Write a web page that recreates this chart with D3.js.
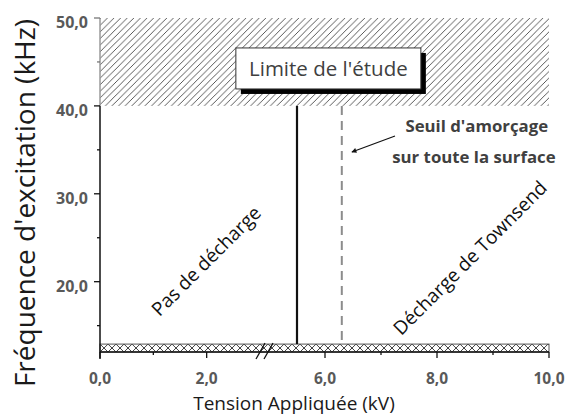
<!DOCTYPE html>
<html>
<head>
<meta charset="utf-8">
<script src="https://cdn.jsdelivr.net/npm/d3@7"></script>
<style>
  html, body { margin: 0; padding: 0; background: #fff; }
  svg { display: block; font-family: "Open Sans", sans-serif; }
</style>
</head>
<body>
<svg id="chart" width="565" height="416"></svg>
<script>
// Axis ticks (kV on x, kHz on y)
const xMajorTicks = [0, 2, 6, 8, 10];
const xMinorTicks = [1, 7, 9];
const yMajorTicks = [20, 30, 40, 50];
const yMinorTicks = [15, 25, 35, 45];
const xBreak = [3, 5];            // interrupted part of the voltage axis
const yDomain = [12, 50];

// Regions and thresholds
const studyLimit = [40, 50];      // frequencies beyond the study
const bottomBand = [12, 12.9];    // hatched strip along the voltage axis
const noDischargeLimit = 5.5;     // kV, onset of discharge
const fullSurfaceThreshold = 6.3; // kV, ignition over the whole surface

const fmt = v => d3.format(".1f")(v).replace(".", ",");

const svg = d3.select("#chart");

// Broken x scale: [0,3] then [5,10]
const x = d3.scaleLinear()
  .domain([0, xBreak[0], xBreak[1], 10])
  .range([100, 260, 269, 549]);
const y = d3.scaleLinear().domain(yDomain).range([352, 18]);

const defs = svg.append("defs");
const diag = defs.append("pattern")
  .attr("id", "diag").attr("patternUnits", "userSpaceOnUse")
  .attr("width", 6.6).attr("height", 6.6);
diag.append("path")
  .attr("d", "M-1,1 l2,-2 M0,6.6 l6.6,-6.6 M5.6,7.6 l2,-2")
  .attr("stroke", "#222").attr("stroke-width", 0.75).attr("fill", "none");

const bandTop = y(bottomBand[1]), bandBot = y(bottomBand[0]);
const bh = bandBot - bandTop;
const cross = defs.append("pattern")
  .attr("id", "cross").attr("patternUnits", "userSpaceOnUse")
  .attr("x", x(0)).attr("y", bandTop)
  .attr("width", 8).attr("height", bh);
cross.append("path")
  .attr("d", `M0,0 L8,${bh} M0,${bh} L8,0`)
  .attr("stroke", "#111").attr("stroke-width", 0.8).attr("fill", "none");

defs.append("marker")
  .attr("id", "arrow").attr("viewBox", "0 0 10 10")
  .attr("refX", 9).attr("refY", 5)
  .attr("markerWidth", 7).attr("markerHeight", 5)
  .attr("markerUnits", "userSpaceOnUse")
  .attr("orient", "auto")
  .append("path").attr("d", "M0,0 L10,5 L0,10 z").attr("fill", "#111");

// Out-of-study region
svg.append("rect")
  .attr("x", x(0)).attr("y", y(studyLimit[1]))
  .attr("width", x(10) - x(0)).attr("height", y(studyLimit[0]) - y(studyLimit[1]))
  .attr("fill", "url(#diag)");

// Bottom hatched strip
svg.append("rect")
  .attr("x", x(0)).attr("y", bandTop)
  .attr("width", x(10) - x(0)).attr("height", bh)
  .attr("fill", "url(#cross)")
  .attr("stroke", "#555").attr("stroke-width", 1);

// Threshold lines
svg.append("line")
  .attr("x1", x(noDischargeLimit)).attr("x2", x(noDischargeLimit))
  .attr("y1", y(studyLimit[0])).attr("y2", bandTop)
  .attr("stroke", "#111").attr("stroke-width", 2.2);
svg.append("line")
  .attr("x1", x(fullSurfaceThreshold)).attr("x2", x(fullSurfaceThreshold))
  .attr("y1", y(studyLimit[0])).attr("y2", bandTop)
  .attr("stroke", "#8c8c8c").attr("stroke-width", 2)
  .attr("stroke-dasharray", "9,6");

// Y axis
svg.append("line")
  .attr("x1", x(0)).attr("x2", x(0))
  .attr("y1", y(studyLimit[1])).attr("y2", y(studyLimit[0]))
  .attr("stroke", "#9a9a9a").attr("stroke-width", 1.5);
svg.append("line")
  .attr("x1", x(0)).attr("x2", x(0))
  .attr("y1", y(studyLimit[0])).attr("y2", y(yDomain[0]) + 7)
  .attr("stroke", "#111").attr("stroke-width", 1.5);
svg.selectAll(".ytick").data(yMajorTicks.concat(yMinorTicks)).enter().append("line")
  .attr("x1", d => x(0) - (yMajorTicks.includes(d) ? 6 : 3)).attr("x2", x(0))
  .attr("y1", d => y(d)).attr("y2", d => y(d))
  .attr("stroke", d => d >= 45 ? "#777" : "#111").attr("stroke-width", 1.3);
svg.selectAll(".ylab").data(yMajorTicks).enter().append("text")
  .attr("x", x(0) - 12).attr("y", d => y(d) + 10)
  .attr("text-anchor", "end").attr("font-weight", 700)
  .attr("font-size", 16).attr("fill", "#595959")
  .text(fmt);

// X axis
svg.append("line")
  .attr("x1", x(0)).attr("x2", x(10))
  .attr("y1", y(yDomain[0])).attr("y2", y(yDomain[0]))
  .attr("stroke", "#111").attr("stroke-width", 1.3);
svg.selectAll(".xtick").data(xMajorTicks.concat(xMinorTicks)).enter().append("line")
  .attr("x1", d => x(d)).attr("x2", d => x(d))
  .attr("y1", y(yDomain[0])).attr("y2", d => y(yDomain[0]) + (xMajorTicks.includes(d) ? 6 : 3))
  .attr("stroke", "#111").attr("stroke-width", 1.3);
svg.selectAll(".xlab").data(xMajorTicks).enter().append("text")
  .attr("x", d => x(d)).attr("y", y(yDomain[0]) + 32)
  .attr("text-anchor", "middle").attr("font-weight", 700)
  .attr("font-size", 15.5).attr("fill", "#595959")
  .text(fmt);

// Axis break marks
const bx = (x(xBreak[0]) + x(xBreak[1])) / 2;
[-4, 4].forEach(o => {
  svg.append("line")
    .attr("x1", bx + o - 4.5).attr("y1", y(yDomain[0]) + 7)
    .attr("x2", bx + o + 4.5).attr("y2", bandTop - 1)
    .attr("stroke", "#111").attr("stroke-width", 1.3);
});

// Axis titles
svg.append("text")
  .attr("x", 294).attr("y", 410)
  .attr("text-anchor", "middle").attr("font-size", 19).attr("fill", "#1a1a1a")
  .text("Tension Appliquée (kV)");
svg.append("text")
  .attr("transform", "translate(35,203) rotate(-90)")
  .attr("text-anchor", "middle").attr("font-size", 28).attr("fill", "#1a1a1a")
  .text("Fréquence d'excitation (kHz)");

// Study limit label box
const bcx = x(6.06), bcy = y(44.26), bw = 185, bhh = 41;
svg.append("rect")
  .attr("x", bcx - bw / 2 + 5).attr("y", bcy - bhh / 2 + 5)
  .attr("width", bw).attr("height", bhh).attr("fill", "#000");
svg.append("rect")
  .attr("x", bcx - bw / 2).attr("y", bcy - bhh / 2)
  .attr("width", bw).attr("height", bhh)
  .attr("fill", "#fff").attr("stroke", "#333").attr("stroke-width", 1);
svg.append("text")
  .attr("x", bcx).attr("y", bcy).attr("dy", "0.35em")
  .attr("text-anchor", "middle").attr("font-size", 20.5).attr("fill", "#404040")
  .text("Limite de l'étude");

// Threshold annotation with arrow
svg.append("line")
  .attr("x1", x(7.25)).attr("y1", y(36.58))
  .attr("x2", x(6.48)).attr("y2", y(34.76))
  .attr("stroke", "#111").attr("stroke-width", 1.2)
  .attr("marker-end", "url(#arrow)");
svg.append("text")
  .attr("x", x(8.71)).attr("y", y(37.03))
  .attr("text-anchor", "middle").attr("font-weight", 700)
  .attr("font-size", 16.8).attr("fill", "#404040")
  .text("Seuil d'amorçage");
svg.append("text")
  .attr("x", x(8.66)).attr("y", y(33.5))
  .attr("text-anchor", "middle").attr("font-weight", 700)
  .attr("font-size", 16.8).attr("fill", "#404040")
  .text("sur toute la surface");

// Regime labels
const regimes = [
  { label: "Pas de décharge", kv: 1.99, khz: 22.35 },
  { label: "Décharge de Townsend", kv: 8.59, khz: 22.7 }
];
svg.selectAll(".regime").data(regimes).enter().append("text")
  .attr("transform", d => `translate(${x(d.kv)},${y(d.khz)}) rotate(-45)`)
  .attr("text-anchor", "middle").attr("dy", "0.35em")
  .attr("font-size", 19).attr("fill", "#111")
  .text(d => d.label);
</script>
</body>
</html>
